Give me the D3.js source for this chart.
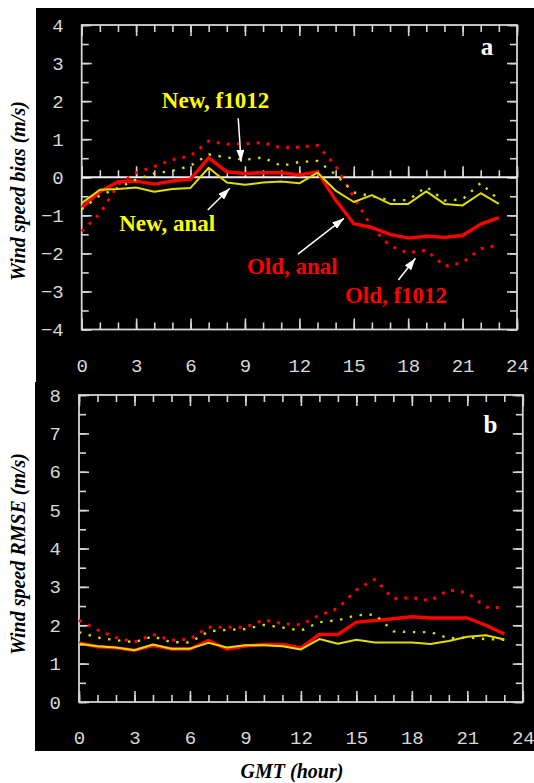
<!DOCTYPE html>
<html>
<head>
<meta charset="utf-8">
<script src="https://cdn.jsdelivr.net/npm/d3@7/dist/d3.min.js"></script>
<style>
  body { margin: 0; background: #fff; }
  svg { display: block; }
  .tick text { font-family: "Liberation Mono", monospace; }
</style>
</head>
<body>
<svg id="chart" width="534" height="783"></svg>
<script>
// hours of the day (GMT)
const hours = [0, 1, 2, 3, 4, 5, 6, 7, 8, 9, 10, 11, 12, 13, 14, 15, 16, 17, 18, 19, 20, 21, 22, 23];
const xTicks = [0, 3, 6, 9, 12, 15, 18, 21, 24];
const biasTicks = [-4, -3, -2, -1, 0, 1, 2, 3, 4];
const rmseTicks = [0, 1, 2, 3, 4, 5, 6, 7, 8];

// panel a: wind speed bias (m/s)
const biasOldAnal = [-0.8, -0.38, -0.12, -0.1, -0.18, -0.1, -0.05, 0.51, 0.14, 0.1, 0.12, 0.12, 0.06, 0.14, -0.6, -1.22, -1.32, -1.5, -1.6, -1.55, -1.58, -1.53, -1.23, -1.06];
const biasOldF1012 = [-1.42, -0.96, -0.2, 0.12, 0.28, 0.46, 0.56, 0.95, 0.87, 0.88, 0.91, 0.77, 0.79, 0.84, 0.3, -0.52, -1.32, -1.8, -1.99, -1.91, -2.34, -2.24, -1.88, -1.78];
const biasNewAnal = [-0.68, -0.33, -0.31, -0.27, -0.38, -0.31, -0.28, 0.25, -0.14, -0.2, -0.14, -0.11, -0.16, 0.12, -0.35, -0.65, -0.47, -0.7, -0.7, -0.37, -0.7, -0.74, -0.42, -0.7];
const biasNewF1012 = [-0.84, -0.48, -0.28, -0.06, 0.1, 0.17, 0.3, 0.6, 0.52, 0.46, 0.52, 0.3, 0.4, 0.43, 0.07, -0.4, -0.5, -0.6, -0.6, -0.25, -0.61, -0.58, -0.15, -0.6];

// panel b: wind speed RMSE (m/s)
const rmseOldAnal = [1.54, 1.44, 1.41, 1.35, 1.47, 1.38, 1.38, 1.6, 1.38, 1.46, 1.5, 1.5, 1.41, 1.76, 1.76, 2.08, 2.12, 2.17, 2.22, 2.19, 2.19, 2.19, 2.0, 1.77];
const rmseOldF1012 = [2.13, 1.88, 1.68, 1.56, 1.76, 1.61, 1.64, 1.95, 1.95, 1.95, 2.14, 2.04, 2.01, 2.26, 2.44, 2.92, 3.2, 2.69, 2.72, 2.64, 2.92, 2.85, 2.47, 2.46];
const rmseNewAnal = [1.52, 1.45, 1.42, 1.35, 1.5, 1.39, 1.39, 1.54, 1.42, 1.48, 1.48, 1.45, 1.37, 1.64, 1.52, 1.62, 1.55, 1.55, 1.55, 1.51, 1.59, 1.7, 1.74, 1.63];
const rmseNewF1012 = [1.82, 1.68, 1.61, 1.56, 1.71, 1.56, 1.55, 1.84, 1.88, 1.9, 2.01, 1.94, 1.86, 2.08, 2.13, 2.26, 2.28, 1.84, 1.82, 1.82, 1.66, 1.68, 1.64, 1.62];

// labels in panel a, placed in data units (hour, m/s)
const notes = [
  { text: 'New, f1012', color: '#ffff00', h: 4.42, v: 1.82, from: [8.63, 1.55], to: [8.79, 0.41] },
  { text: 'New, anal',  color: '#ffff00', h: 2.07, v: -1.41, from: [6.95, -0.86], to: [8.17, -0.29] },
  { text: 'Old, anal',  color: '#ff0000', h: 9.11, v: -2.53, from: [11.92, -2.02], to: [14.46, -1.08] },
  { text: 'Old, f1012', color: '#ff0000', h: 14.51, v: -3.3, from: [17.46, -2.7], to: [18.4, -2.13] }
];

const RED = '#ff0000';
const YEL = '#dede00';
const FRAME = '#d4d4d4';
const SERIF = '"Liberation Serif", "Times New Roman", serif';

const svg = d3.select('#chart');

svg.append('defs').append('marker')
    .attr('id', 'head')
    .attr('viewBox', '0 0 12 8')
    .attr('refX', 12).attr('refY', 4)
    .attr('markerWidth', 12).attr('markerHeight', 8)
    .attr('markerUnits', 'userSpaceOnUse')
    .attr('orient', 'auto')
  .append('path')
    .attr('d', 'M0,0 L12,4 L0,8 Z')
    .attr('fill', '#fff');

function styleAxis(sel) {
  sel.select('.domain').remove();
  sel.selectAll('.tick line').attr('stroke', FRAME).attr('stroke-width', 1.6);
  sel.selectAll('.tick text').attr('fill', '#d8d8d8').attr('font-size', 19);
}

function drawPanel(p) {
  const g = svg.append('g');

  g.append('rect')
      .attr('x', p.bg[0]).attr('y', p.bg[1])
      .attr('width', p.bg[2]).attr('height', p.bg[3])
      .attr('fill', '#000');

  const x = d3.scaleLinear().domain([0, 24]).range([p.left, p.right]);
  const y = d3.scaleLinear().domain(d3.extent(p.yTicks)).range([p.bottom, p.top]);

  const allHours = hours.concat([24]);
  const halfSteps = d3.range(p.yTicks[0], p.yTicks[p.yTicks.length - 1] + 0.25, 0.5);

  // hour ticks, inward from bottom and top
  g.append('g').attr('transform', `translate(0,${p.bottom})`)
      .call(d3.axisBottom(x).tickValues(allHours).tickSize(-7).tickFormat(''))
      .call(styleAxis);
  g.append('g').attr('transform', `translate(0,${p.bottom})`)
      .call(d3.axisBottom(x).tickValues(xTicks).tickSize(-11).tickFormat(''))
      .call(styleAxis);
  g.append('g').attr('transform', `translate(0,${p.top})`)
      .call(d3.axisTop(x).tickValues(allHours).tickSize(-7).tickFormat(''))
      .call(styleAxis);
  g.append('g').attr('transform', `translate(0,${p.top})`)
      .call(d3.axisTop(x).tickValues(xTicks).tickSize(-11).tickFormat(''))
      .call(styleAxis);

  // x labels
  g.append('g').attr('transform', `translate(0,${p.bottom})`)
      .call(d3.axisBottom(x).tickValues(xTicks).tickSize(0).tickPadding(29).tickFormat(d3.format('d')))
      .call(styleAxis);

  // y ticks, inward from left and right
  g.append('g').attr('transform', `translate(${p.left},0)`)
      .call(d3.axisLeft(y).tickValues(halfSteps).tickSize(-7).tickFormat(''))
      .call(styleAxis);
  g.append('g').attr('transform', `translate(${p.left},0)`)
      .call(d3.axisLeft(y).tickValues(p.yTicks).tickSize(-10).tickPadding(p.yPad).tickFormat(d3.format('d')))
      .call(styleAxis);
  g.append('g').attr('transform', `translate(${p.right},0)`)
      .call(d3.axisRight(y).tickValues(halfSteps).tickSize(-7).tickFormat(''))
      .call(styleAxis);
  g.append('g').attr('transform', `translate(${p.right},0)`)
      .call(d3.axisRight(y).tickValues(p.yTicks).tickSize(-10).tickFormat(''))
      .call(styleAxis);

  // frame
  g.append('rect')
      .attr('x', p.left).attr('y', p.top)
      .attr('width', p.right - p.left).attr('height', p.bottom - p.top)
      .attr('fill', 'none').attr('stroke', FRAME).attr('stroke-width', 1.8);

  if (p.zeroLine) {
    const z = g.append('g').attr('transform', `translate(0,${y(0)})`);
    z.append('g').call(d3.axisTop(x).tickValues(allHours).tickSize(7).tickFormat('')).call(styleAxis);
    z.append('g').call(d3.axisTop(x).tickValues(xTicks).tickSize(11).tickFormat('')).call(styleAxis);
    z.append('line')
        .attr('x1', p.left).attr('x2', p.right)
        .attr('stroke', '#f0f0f0').attr('stroke-width', 1.8);
  }

  const line = d3.line().x((d, i) => x(hours[i])).y(d => y(d));

  const series = [
    { values: p.oldF1012, color: RED, width: 3, dash: '3,7' },
    { values: p.oldAnal, color: RED, width: 3.4, dash: null },
    { values: p.newF1012, color: YEL, width: 2.4, dash: '2.4,7.6' },
    { values: p.newAnal, color: YEL, width: 2, dash: null }
  ];

  g.selectAll('path.series')
    .data(series)
    .join('path')
      .attr('class', 'series')
      .attr('d', d => line(d.values))
      .attr('fill', 'none')
      .attr('stroke', d => d.color)
      .attr('stroke-width', d => d.width)
      .attr('stroke-dasharray', d => d.dash)
      .attr('stroke-linejoin', 'round');

  g.append('text')
      .attr('x', p.tag[0]).attr('y', p.tag[1])
      .attr('text-anchor', 'middle')
      .attr('font-family', SERIF)
      .attr('font-weight', 'bold')
      .attr('font-size', 25)
      .attr('fill', '#fff')
      .text(p.tagText);

  svg.append('text')
      .attr('transform', `translate(${p.titleX},${p.titleY}) rotate(-90)`)
      .attr('text-anchor', 'middle')
      .attr('font-family', SERIF)
      .attr('font-weight', 'bold')
      .attr('font-style', 'italic')
      .attr('font-size', 20)
      .attr('fill', '#000')
      .text(p.title);

  return { g, x, y };
}

const a = drawPanel({
  bg: [36, 8, 498, 374],
  left: 81.7, right: 517, top: 25, bottom: 329.5,
  yTicks: biasTicks, yPad: 18,
  zeroLine: true,
  oldAnal: biasOldAnal, oldF1012: biasOldF1012, newAnal: biasNewAnal, newF1012: biasNewF1012,
  tag: [487, 55], tagText: 'a',
  title: 'Wind speed bias (m/s)', titleX: 25, titleY: 191
});

const b = drawPanel({
  bg: [35, 382, 499, 369],
  left: 79, right: 522.8, top: 395, bottom: 702,
  yTicks: rmseTicks, yPad: 18,
  zeroLine: false,
  oldAnal: rmseOldAnal, oldF1012: rmseOldF1012, newAnal: rmseNewAnal, newF1012: rmseNewF1012,
  tag: [490.5, 433], tagText: 'b',
  title: 'Wind speed RMSE (m/s)', titleX: 25, titleY: 554
});

// annotations in panel a
const ann = a.g.append('g');
ann.selectAll('line')
  .data(notes)
  .join('line')
    .attr('x1', d => a.x(d.from[0])).attr('y1', d => a.y(d.from[1]))
    .attr('x2', d => a.x(d.to[0])).attr('y2', d => a.y(d.to[1]))
    .attr('stroke', '#fff').attr('stroke-width', 1.5)
    .attr('marker-end', 'url(#head)');
ann.selectAll('text')
  .data(notes)
  .join('text')
    .attr('x', d => a.x(d.h)).attr('y', d => a.y(d.v))
    .attr('font-family', SERIF)
    .attr('font-weight', 'bold')
    .attr('font-size', 23)
    .attr('fill', d => d.color)
    .text(d => d.text);

svg.append('text')
    .attr('x', 292).attr('y', 778)
    .attr('text-anchor', 'middle')
    .attr('font-family', SERIF)
    .attr('font-weight', 'bold')
    .attr('font-style', 'italic')
    .attr('font-size', 20)
    .attr('fill', '#000')
    .text('GMT (hour)');
</script>
</body>
</html>
